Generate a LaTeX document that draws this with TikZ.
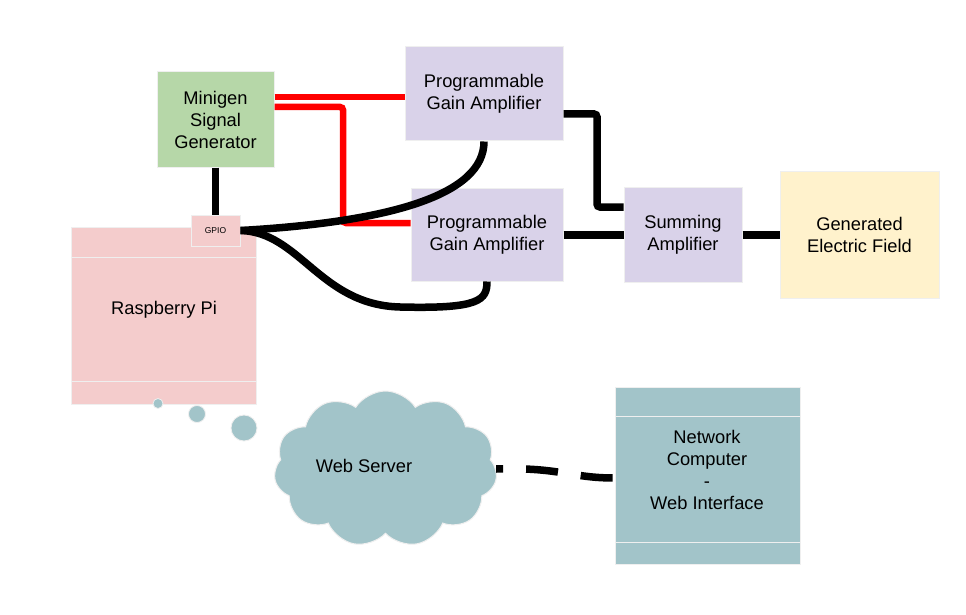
\documentclass[tikz,border=0pt]{standalone}
\usepackage{fontspec}
\setmainfont{Liberation Sans}
\usetikzlibrary{shapes.symbols,calc}
\definecolor{cgreen}{HTML}{B6D7A8}
\definecolor{cpurple}{HTML}{D9D2E9}
\definecolor{cyellow}{HTML}{FFF2CC}
\definecolor{cpink}{HTML}{F4CCCC}
\definecolor{cteal}{HTML}{A2C4C9}
\definecolor{boxedge}{HTML}{EFEFEF}
\definecolor{cred}{HTML}{FF0000}
\begin{document}
\begin{tikzpicture}[x=1pt,y=-1pt,
  box/.style={draw=boxedge, line width=1pt, inner sep=0pt, align=center,
    font=\fontsize{18.3}{22}\selectfont},
  lbl/.style={inner sep=0pt, align=center, font=\fontsize{18.3}{22}\selectfont},
  blk/.style={line width=7.5pt, black},
  redl/.style={line width=6.5pt, cred, rounded corners=3pt},
  bubble/.style={circle, fill=cteal, draw=boxedge, line width=0.8pt, inner sep=0pt}]
\fill[white] (0,0) rectangle (966,615);
\useasboundingbox (0,0) rectangle (966,615);
% boxes
\node[box, fill=cgreen, minimum width=117pt, minimum height=95pt] (mini) at (215.5,119.5) {Minigen\\Signal\\Generator};
\node[box, fill=cpurple, minimum width=158pt, minimum height=94pt] (pga1) at (484,94) {Programmable\\Gain Amplifier};
\node[box, fill=cpurple, minimum width=152pt, minimum height=93pt] (pga2) at (487,234.5) {Programmable\\Gain Amplifier};
\node[box, fill=cpurple, minimum width=118pt, minimum height=95pt] (sum) at (683,234.5) {Summing\\Amplifier};
\node[box, fill=cyellow, minimum width=159pt, minimum height=127pt] (gen) at (859.5,234.5) {Generated\\Electric Field};
% raspberry pi
\node[box, fill=cpink, minimum width=185pt, minimum height=177pt] (rpi) at (163.5,315.5) {};
\draw[boxedge, line width=1pt] (rpi.west |- 0,257) -- (rpi.east |- 0,257);
\draw[boxedge, line width=1pt] (rpi.west |- 0,381) -- (rpi.east |- 0,381);
\node[lbl] (rpitext) at (164,310) {Raspberry Pi};
\node[box, fill=cpink, minimum width=49pt, minimum height=31pt, font=\fontsize{8.5}{10}\selectfont] (gpio) at (215.5,230.5) {GPIO};
% bubbles
\node[bubble, minimum size=10pt] (b1) at (158,403.5) {};
\node[bubble, minimum size=17pt] (b2) at (197,414) {};
\node[bubble, minimum size=26pt] (b3) at (244,428) {};
% cloud
\node[cloud, cloud puffs=11, cloud puff arc=115, aspect=1.45, fill=cteal, draw=boxedge, line width=1pt,
  minimum width=223pt, minimum height=156pt, inner sep=0pt] (cloud) at (385.5,469) {};
\node[lbl] (cloudtext) at (364,466) {Web Server};
% network computer
\node[box, fill=cteal, minimum width=185pt, minimum height=177pt] (net) at (707.5,475.5) {};
\draw[boxedge, line width=1pt] (net.west |- 0,416) -- (net.east |- 0,416);
\draw[boxedge, line width=1pt] (net.west |- 0,542) -- (net.east |- 0,542);
\node[lbl] (nettext) at (707,470) {Network\\Computer\\-\\Web Interface};
% red connectors
\draw[redl] (mini.east |- 0,97) -- (pga1.west |- 0,97);
\draw[redl] (mini.east |- 0,107) -- (343,107) -- (343,223) -- (pga2.west |- 0,223);
% black connectors
\draw[blk] (mini.south) -- (gpio.north);
\draw[blk] (gpio.east) .. controls (390,222) and (484,195) .. (pga1.south);
\draw[blk] (gpio.east) .. controls (300,232) and (320,305) .. (400,307) .. controls (480,309) and (487,300) .. (pga2.south);
\draw[blk, rounded corners=3pt] (pga1.east |- 0,114) -- (597,114) -- (597,207) -- (sum.west |- 0,207);
\draw[blk] (pga2.east |- 0,235) -- (sum.west |- 0,235);
\draw[blk] (sum.east |- 0,235) -- (gen.west |- 0,235);
% dashed link
\draw[blk, dash pattern=on 32pt off 23pt, dash phase=25pt] (cloud.east) .. controls (560,467) and (570,478) .. (net.west |- 0,478);
\end{tikzpicture}
\end{document}
